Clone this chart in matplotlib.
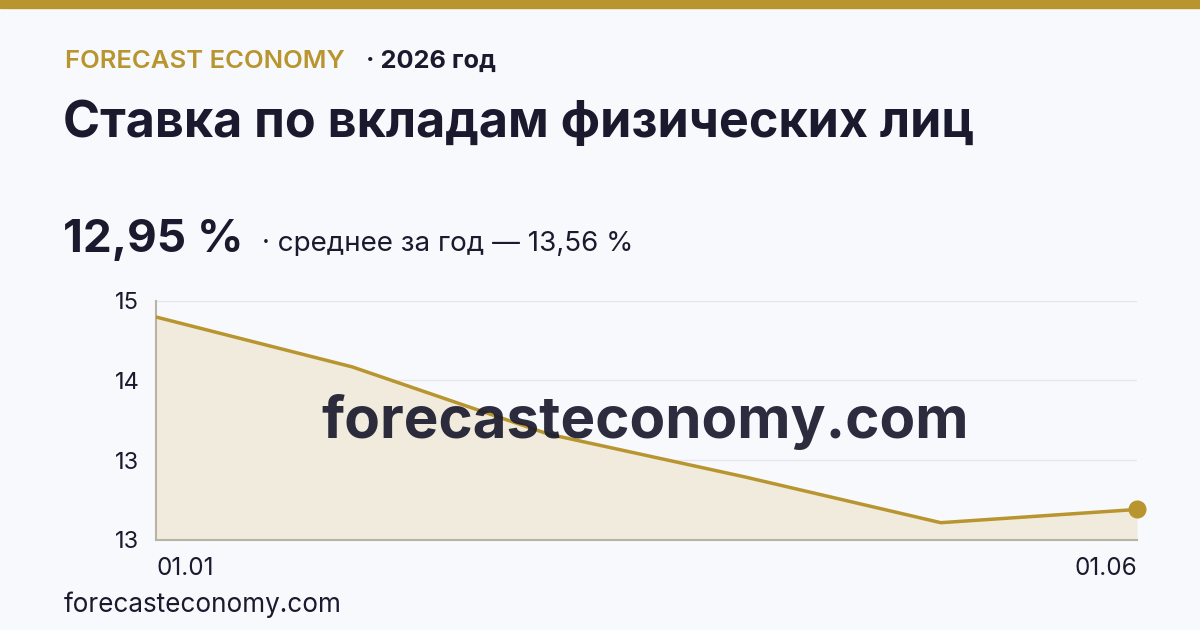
import matplotlib
matplotlib.use("Agg")
import matplotlib.pyplot as plt
import numpy as np

plt.rcParams['font.family'] = ['Inter', 'DejaVu Sans']

# Data
dates = ["01.01", "01.02", "01.03", "01.04", "01.05", "01.06"]
rates = [14.84, 14.35, 13.69, 13.27, 12.82, 12.95]
current_label = "12,95 %"
mean_label = "· среднее за год — 13,56 %"

GOLD = "#B8952E"
DARK = "#1A1A2E"
BG = "#F8F9FC"
FILL = "#F0EBDD"
GRID = "#E4E6EB"
SPINE = "#B8B3A6"

W, H = 1200, 630
fig = plt.figure(figsize=(W / 100, H / 100), dpi=100, facecolor=BG)


def px(x, y):
    return x / W, 1 - y / H


# top gold bar
fig.patches.append(plt.Rectangle((0, 1 - 8 / H), 1, 8 / H, transform=fig.transFigure,
                                 color=GOLD, zorder=0))

fig.text(*px(65, 61), "FORECAST ECONOMY", color=GOLD, fontsize=18.5, fontweight='semibold',
         va='center', ha='left')
fig.text(*px(366, 61), "· 2026 год", color=DARK, fontsize=18.3, fontweight='bold',
         va='center', ha='left')
fig.text(*px(63, 123), "Ставка по вкладам физических лиц", color=DARK, fontsize=36.2,
         fontweight='bold', va='center', ha='left')
fig.text(*px(63, 240), current_label, color=DARK, fontsize=33, fontweight='bold',
         va='center', ha='left')
fig.text(*px(262, 244), mean_label, color=DARK, fontsize=20, va='center', ha='left')
fig.text(*px(64, 605), "forecasteconomy.com", color=DARK, fontsize=18.8, va='center', ha='left')

left, right, top, bottom = 156, 1137, 300.7, 540
ax = fig.add_axes([left / W, 1 - bottom / H, (right - left) / W, (bottom - top) / H])
ax.set_facecolor('none')

x = np.arange(len(rates))
ymin, ymax = 12.65, 15.0
ax.fill_between(x, rates, ymin, color=FILL, zorder=1, linewidth=0)
ax.plot(x, rates, color=GOLD, linewidth=2.5, zorder=3, solid_joinstyle='round')
ax.plot(x[-1], rates[-1], 'o', color=GOLD, markersize=12, zorder=4, clip_on=False)

ax.set_xlim(0, len(rates) - 1)
ax.set_ylim(ymin, ymax)
yt = np.linspace(ymin, ymax, 4)
ax.set_yticks(yt)
ax.set_yticklabels([f"{v:.0f}" for v in yt])
for v in yt[1:]:
    ax.axhline(v, color=GRID, linewidth=1, zorder=0.5)

ax.set_xticks([0, len(rates) - 1])
ax.set_xticklabels([dates[0], dates[-1]])
xl = ax.get_xticklabels()
xl[0].set_ha('left')
xl[1].set_ha('right')

ax.tick_params(axis='y', length=0, labelsize=17, colors=DARK, pad=12)
ax.tick_params(axis='x', length=0, labelsize=17.5, colors=DARK, pad=12)
for s in ['top', 'right']:
    ax.spines[s].set_visible(False)
for s in ['left', 'bottom']:
    ax.spines[s].set_color(SPINE)
    ax.spines[s].set_linewidth(1.5)

# watermark
fig.text(*px(645, 422), "forecasteconomy.com", color=DARK, alpha=0.92, fontsize=42,
         fontweight='bold', ha='center', va='center', zorder=10)

fig.savefig("out.png", dpi=100, facecolor=BG)
